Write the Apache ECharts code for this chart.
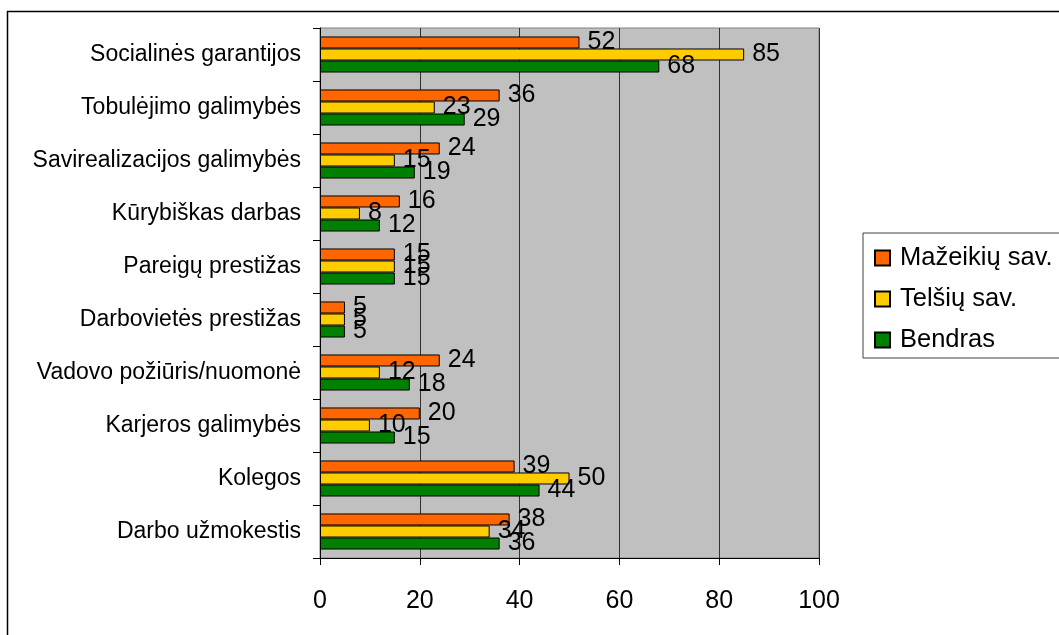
<!DOCTYPE html>
<html>
<head>
<meta charset="utf-8">
<script src="https://cdn.jsdelivr.net/npm/echarts@6/dist/echarts.min.js"></script>
<style>
html,body{margin:0;padding:0;background:#fff;}
#chart{width:1059px;height:635px;}
</style>
</head>
<body>
<div id="chart"></div>
<script>
// categories listed bottom to top (ECharts category y-axis starts at bottom)
const categories = [
  "Darbo užmokestis",
  "Kolegos",
  "Karjeros galimybės",
  "Vadovo požiūris/nuomonė",
  "Darbovietės prestižas",
  "Pareigų prestižas",
  "Kūrybiškas darbas",
  "Savirealizacijos galimybės",
  "Tobulėjimo galimybės",
  "Socialinės garantijos"
];
const seriesNames = ["Mažeikių sav.", "Telšių sav.", "Bendras"];
const mazeikiai = [38, 39, 20, 24, 5, 15, 16, 24, 36, 52];
const telsiai   = [34, 50, 10, 12, 5, 15, 8, 15, 23, 85];
const bendras   = [36, 44, 15, 18, 5, 15, 12, 19, 29, 68];
const xTicks = [0, 20, 40, 60, 80, 100];

const colors = ["#ff6600", "#ffcc00", "#008000"];
const FONT = "Liberation Sans, Arial, sans-serif";

const chart = echarts.init(document.getElementById('chart'), null, {renderer: 'canvas'});

function mkSeries(name, data, color) {
  return {
    name: name,
    type: 'bar',
    data: data,
    barGap: '0%',
    barCategoryGap: '32%',
    itemStyle: {color: color, borderColor: '#000', borderWidth: 1},
    label: {
      show: true,
      position: 'right',
      distance: 8,
      color: '#000',
      fontSize: 25,
      fontFamily: FONT
    },
    emphasis: {disabled: true}
  };
}

chart.setOption({
  animation: false,
  backgroundColor: '#fff',
  textStyle: {fontFamily: FONT},
  graphic: [{
    type: 'rect',
    left: 5, top: 9,
    shape: {width: 1100, height: 700},
    style: {fill: 'none', stroke: '#000', lineWidth: 1.5},
    silent: true,
    z: -1
  }],
  legend: {
    orient: 'vertical',
    left: 863,
    top: 233,
    padding: [12, 40, 5, 11],
    itemWidth: 15,
    itemHeight: 15,
    itemGap: 15,
    icon: 'rect',
    borderColor: '#404040',
    borderWidth: 1,
    backgroundColor: '#fff',
    data: seriesNames,
    textStyle: {fontSize: 25.5, color: '#000', fontFamily: FONT, lineHeight: 25, padding: [0, 0, 0, 5]}
  },
  grid: {
    left: 320, top: 28, right: 240, bottom: 77,
    show: true,
    backgroundColor: '#c0c0c0',
    borderColor: '#808080',
    borderWidth: 1
  },
  xAxis: {
    type: 'value',
    min: xTicks[0],
    max: xTicks[xTicks.length - 1],
    interval: 20,
    axisLine: {show: true, lineStyle: {color: '#000', width: 1}},
    axisTick: {show: true, length: 7, lineStyle: {color: '#000'}},
    splitLine: {show: true, lineStyle: {color: '#303030', width: 1}},
    axisLabel: {fontSize: 25, color: '#000', margin: 31, fontFamily: FONT}
  },
  yAxis: {
    type: 'category',
    data: categories,
    axisLine: {show: true, lineStyle: {color: '#000', width: 1}},
    axisTick: {show: true, length: 7, lineStyle: {color: '#000'}},
    axisLabel: {fontSize: 23, color: '#000', margin: 19, fontFamily: FONT}
  },
  series: [
    mkSeries(seriesNames[0], mazeikiai, colors[0]),
    mkSeries(seriesNames[1], telsiai, colors[1]),
    mkSeries(seriesNames[2], bendras, colors[2])
  ]
});
</script>
</body>
</html>
